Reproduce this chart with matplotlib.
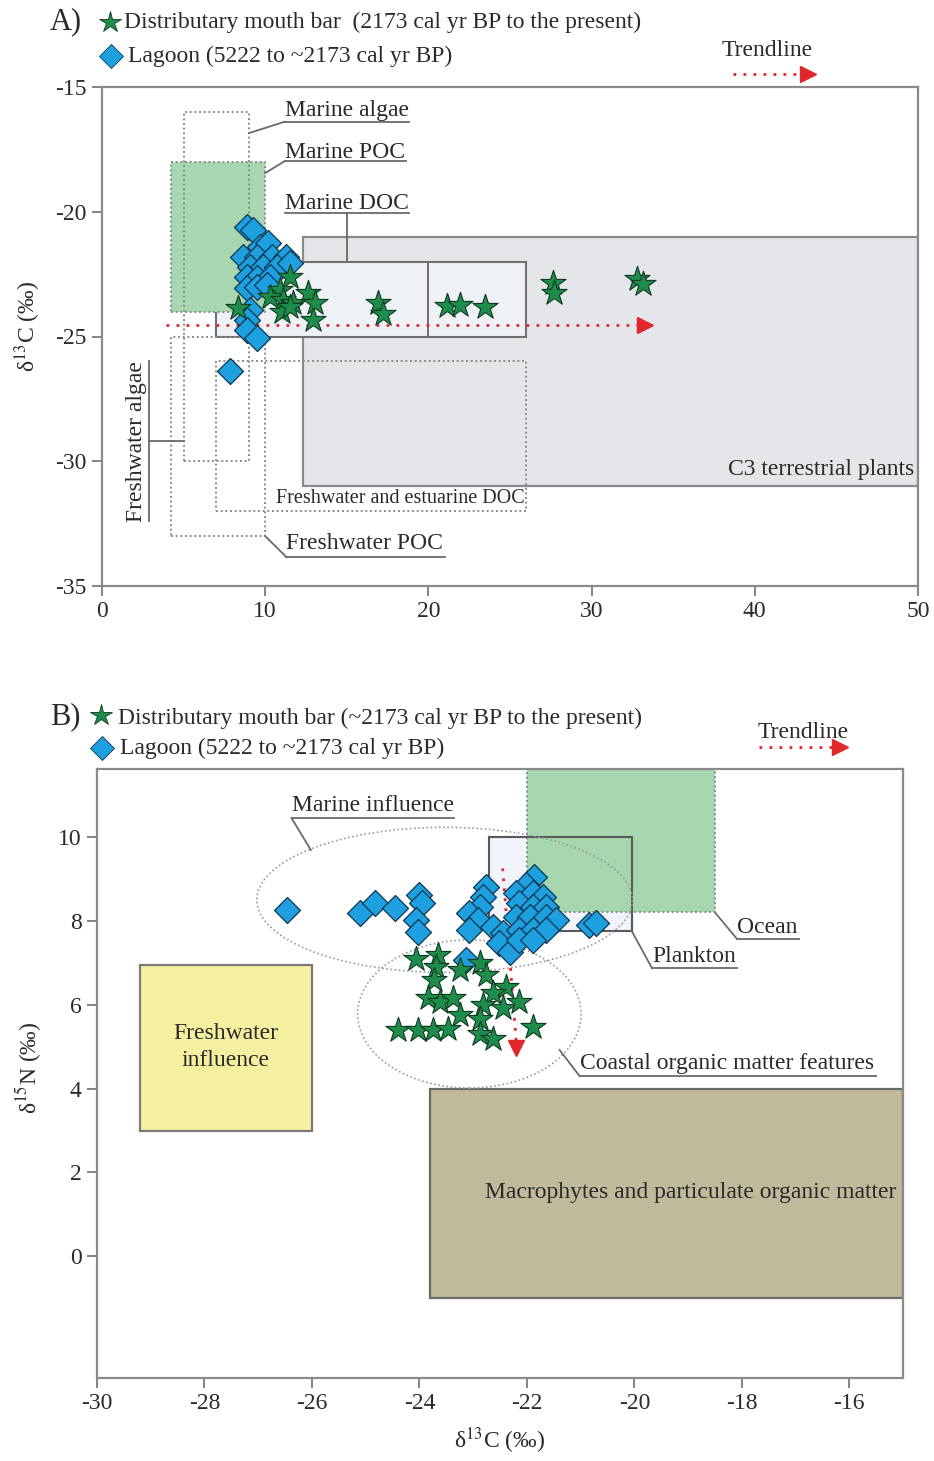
import matplotlib
matplotlib.use("Agg")
import matplotlib.pyplot as plt
from matplotlib.patches import Rectangle, Ellipse
from matplotlib.lines import Line2D

plt.rcParams['font.family'] = ['Liberation Serif', 'DejaVu Serif']
plt.rcParams['mathtext.fontset'] = 'stix'
plt.rcParams['axes.unicode_minus'] = False

# ---------------- data ----------------
# Panel A: C/N ratio vs d13C
a_mouthbar_cn = [8.35, 11.5, 10.9, 10.3, 11.1, 11.7, 11.0, 11.5, 12.64, 13.05,
                 12.95, 16.93, 17.2, 21.16, 21.94, 23.47, 27.65, 27.7, 32.76, 33.17]
a_mouthbar_d13c = [-23.87, -22.6, -23.14, -23.4, -23.54, -23.67, -24.0, -23.8, -23.27, -23.67,
                   -24.34, -23.67, -24.1, -23.78, -23.74, -23.8, -22.87, -23.24, -22.7, -22.9]
a_lagoon_cn = [8.87, 9.27, 8.66, 9.68, 10.19, 9.48, 10.4, 11.3, 9.07, 9.88, 10.7, 11.5,
               8.87, 9.48, 10.3, 8.87, 9.48, 10.1, 9.07, 8.87, 8.87, 9.48, 7.84]
a_lagoon_d13c = [-20.6, -20.73, -21.8, -21.4, -21.26, -21.8, -21.8, -21.8, -22.2, -22.2, -22.2, -22.07,
                 -22.6, -22.67, -22.6, -23.07, -23.0, -22.94, -23.94, -24.34, -24.74, -25.07, -26.4]

# Panel B: d13C vs d15N
b_mouthbar_d13c = [-24.06, -23.66, -23.69, -23.72, -23.25, -22.88, -22.76, -22.39, -22.63, -23.84,
                   -23.62, -23.38, -22.82, -22.45, -22.14, -23.25, -22.88, -24.4, -24.03, -23.75,
                   -23.47, -22.88, -22.63, -21.89]
b_mouthbar_d15n = [7.1, 7.18, 6.9, 6.59, 6.83, 6.99, 6.71, 6.43, 6.27, 6.15,
                   6.07, 6.15, 5.99, 5.91, 6.07, 5.75, 5.67, 5.39, 5.39, 5.39,
                   5.43, 5.31, 5.19, 5.47]
b_lagoon_d13c = [-23.13, -26.47, -25.11, -24.83, -24.46, -24.0, -23.96, -24.06, -24.03,
                 -22.76, -22.82, -22.88, -23.07, -22.91, -23.07, -22.63, -22.45, -22.51, -22.32,
                 -21.86, -22.01, -22.2, -21.89, -21.7, -22.14, -21.89, -21.64, -22.2, -21.95,
                 -21.64, -21.46, -22.14, -21.89, -21.64, -22.14, -21.89, -20.84, -20.71]
b_lagoon_d15n = [7.06, 8.26, 8.18, 8.42, 8.3, 8.62, 8.42, 8.02, 7.74,
                 8.81, 8.58, 8.34, 8.18, 8.02, 7.78, 7.86, 7.7, 7.46, 7.26,
                 9.05, 8.85, 8.66, 8.66, 8.58, 8.42, 8.34, 8.34, 8.1, 8.1,
                 8.1, 8.02, 7.78, 7.78, 7.78, 7.54, 7.54, 7.9, 7.94]

# trend lines (start / end of each arrow)
a_trend_x = [3.9, 33.0]
a_trend_y = [-24.55, -24.55]
b_trend_x = [-22.45, -22.2]
b_trend_y = [9.25, 5.15]

a_xticks = [0, 10, 20, 30, 40, 50]
a_yticks = [-15, -20, -25, -30, -35]
b_xticks = [-30, -28, -26, -24, -22, -20, -18, -16]
b_yticks = [0, 2, 4, 6, 8, 10]

# ---------------- style ----------------
STAR_FC = '#1e8c4a'
STAR_EC = '#0e3a20'
DIAM_FC = '#1d9fe0'
DIAM_EC = '#0d3550'
TXT = '#2a2a2a'
LINE = '#6a6a6a'
RED = '#e0282c'
FS = 17

W, H = 934, 1461
fig = plt.figure(figsize=(W / 100, H / 100), dpi=100)


def fx(px):
    return px / W


def fy(py):
    return 1 - py / H


def style_axes(ax):
    for s in ax.spines.values():
        s.set_color('#8a8a8a')
        s.set_linewidth(1.6)
    ax.tick_params(direction='out', length=7, width=1.3, color='#7a7a7a',
                   labelsize=FS, labelcolor=TXT, pad=4)


def underlined(ax, text, x, y, x_end, uy, conn, fs=FS):
    ax.text(x, y, text, ha='left', va='center', fontsize=fs, color=TXT, zorder=8)
    ax.plot([x, x_end], [uy, uy], color=LINE, lw=1.3, zorder=8, clip_on=False)
    ax.plot(conn[0], conn[1], color=LINE, lw=1.3, zorder=8, clip_on=False)


def dotted_box(ax, x0, x1, y0, y1, fc='none', z=3):
    ax.add_patch(Rectangle((x0, y0), x1 - x0, y1 - y0, facecolor=fc, edgecolor='#8c8c8c',
                           lw=1.4, ls=(0, (1, 1.4)), zorder=z))


def solid_box(ax, x0, x1, y0, y1, fc, ec='#8a8a8a', z=1, lw=1.6):
    ax.add_patch(Rectangle((x0, y0), x1 - x0, y1 - y0, facecolor=fc, edgecolor=ec,
                           lw=lw, zorder=z))


# ================= Panel A =================
axA = fig.add_axes([fx(102), fy(586), fx(918) - fx(102), fy(87) - fy(586)])
axA.set_xlim(0, 50)
axA.set_ylim(-35, -15)
axA.set_xticks(a_xticks)
axA.set_yticks(a_yticks)
style_axes(axA)
axA.set_ylabel('δ$^{13}$C (‰)', fontsize=FS, color=TXT, labelpad=2)
axA.yaxis.set_label_coords(-0.072, 0.52)

# source fields
solid_box(axA, 12.3, 50, -31.0, -21.0, '#e4e6ea', z=1)
solid_box(axA, 7.0, 26.0, -25.0, -22.0, '#eef1f6', ec='#707070', z=2, lw=1.5)
axA.plot([20, 20], [-25, -22], color='#707070', lw=1.4, zorder=2)
dotted_box(axA, 4.2, 10.0, -24.0, -18.0, fc='#a7d7b1', z=2)
dotted_box(axA, 5.0, 9.0, -30.0, -16.0)
dotted_box(axA, 4.2, 10.0, -33.0, -25.0)
dotted_box(axA, 7.0, 26.0, -32.0, -26.0)

axA.text(49.75, -30.35, 'C3 terrestrial plants', ha='right', va='center',
         fontsize=17, color=TXT, zorder=8)
axA.text(25.9, -31.5, 'Freshwater and estuarine DOC', ha='right', va='center',
         fontsize=14.5, color=TXT, zorder=8)

underlined(axA, 'Marine algae', 11.2, -15.96, 18.8, -16.39,
           ([9.0, 11.2], [-16.85, -16.39]))
underlined(axA, 'Marine POC', 11.2, -17.62, 18.6, -17.97,
           ([10.0, 11.2], [-18.45, -17.97]))
underlined(axA, 'Marine DOC', 11.2, -19.65, 18.8, -20.06,
           ([15.0, 15.0], [-20.06, -22.0]))
underlined(axA, 'Freshwater POC', 11.3, -33.3, 21.0, -33.84,
           ([10.0, 11.3], [-33.0, -33.84]))
# rotated label on the left
axA.text(2.1, -29.2, 'Freshwater algae', rotation=90, ha='center', va='center',
         fontsize=FS, color=TXT, zorder=8)
axA.plot([2.85, 2.85], [-26.0, -32.4], color=LINE, lw=1.3, zorder=8)
axA.plot([2.85, 5.0], [-29.2, -29.2], color=LINE, lw=1.3, zorder=8)

# trend
axA.plot(a_trend_x, a_trend_y, color=RED, lw=2.0, ls=(0, (1, 2.6)), zorder=4)
axA.plot(a_trend_x[-1] + 0.3, a_trend_y[-1], marker='>', ms=12, color=RED, mec=RED, zorder=4)

axA.scatter(a_lagoon_cn, a_lagoon_d13c, marker='D', s=175, c=DIAM_FC,
            edgecolors=DIAM_EC, linewidths=0.9, zorder=5)
axA.scatter(a_mouthbar_cn, a_mouthbar_d13c, marker='*', s=360, c=STAR_FC,
            edgecolors=STAR_EC, linewidths=0.8, zorder=6)

# legend A
fig.text(fx(50), fy(22), 'A)', fontsize=22, color=TXT, ha='left', va='center')
fig.add_artist(Line2D([fx(110)], [fy(22)], marker='*', ms=16, color=STAR_FC,
                      mec=STAR_EC, mew=0.6, ls='none'))
fig.text(fx(124), fy(22), 'Distributary mouth bar  (2173 cal yr BP to the present)',
         fontsize=FS, color=TXT, ha='left', va='center')
fig.add_artist(Line2D([fx(111)], [fy(56)], marker='D', ms=12, color=DIAM_FC,
                      mec=DIAM_EC, mew=0.6, ls='none'))
fig.text(fx(128), fy(56), 'Lagoon (5222 to ~2173 cal yr BP)',
         fontsize=FS, color=TXT, ha='left', va='center')
fig.text(fx(767), fy(51), 'Trendline', fontsize=FS, color=TXT, ha='center', va='center')
fig.add_artist(Line2D([fx(733), fx(803)], [fy(74), fy(74)], color=RED, lw=2.0,
                      ls=(0, (1, 2.6))))
fig.add_artist(Line2D([fx(808)], [fy(74)], marker='>', ms=12, color=RED, ls='none'))

# ================= Panel B =================
axB = fig.add_axes([fx(97), fy(1378), fx(903) - fx(97), fy(769) - fy(1378)])
axB.set_xlim(-30, -15)
axB.set_ylim(-2.9, 11.62)
axB.set_xticks(b_xticks)
axB.set_yticks(b_yticks)
style_axes(axB)
axB.set_xlabel('δ$^{13}$C (‰)', fontsize=FS, color=TXT, labelpad=8)
axB.set_ylabel('δ$^{15}$N (‰)', fontsize=FS, color=TXT)
axB.yaxis.set_label_coords(-0.066, 0.51)

solid_box(axB, -29.2, -26.0, 3.0, 6.95, '#f4f0a0', ec='#7a7a7a', z=1)
solid_box(axB, -23.8, -15.0, -1.0, 4.0, '#c0ba9b', ec='#6a6a6a', z=1)
solid_box(axB, -22.7, -20.05, 7.76, 10.0, '#f1f5fb', ec='#5a5a5a', z=1, lw=1.5)
dotted_box(axB, -22.0, -18.5, 8.2, 11.9, fc='#a5d6ae', z=2)
axB.plot([-22.7, -20.05, -20.05], [10.0, 10.0, 7.76], color='#5a5a5a', lw=1.5, zorder=2)

axB.add_patch(Ellipse((-23.53, 8.5), 6.99, 3.46, fill=False, edgecolor='#9a9a9a',
                      lw=1.2, ls=(0, (1, 1.5)), zorder=3))
axB.add_patch(Ellipse((-23.07, 5.78), 4.16, 3.53, fill=False, edgecolor='#9a9a9a',
                      lw=1.2, ls=(0, (1, 1.5)), zorder=3))

axB.text(-27.6, 4.99, 'Freshwater\ninfluence', ha='center', va='center', fontsize=FS,
         color=TXT, linespacing=1.35, zorder=8)
axB.text(-15.12, 1.53, 'Macrophytes and particulate organic matter', ha='right',
         va='center', fontsize=FS, color=TXT, zorder=8)

underlined(axB, 'Marine influence', -26.38, 10.76, -23.35, 10.45,
           ([-26.38, -26.02], [10.45, 9.69]))
underlined(axB, 'Ocean', -18.09, 7.85, -16.93, 7.57,
           ([-18.5, -18.09], [8.2, 7.57]))
underlined(axB, 'Plankton', -19.67, 7.16, -18.09, 6.87,
           ([-20.05, -19.67], [7.76, 6.87]))
underlined(axB, 'Coastal organic matter features', -21.02, 4.61, -15.5, 4.30,
           ([-21.39, -21.02], [4.92, 4.30]))

axB.plot(b_trend_x, b_trend_y, color=RED, lw=2.0, ls=(0, (1, 2.6)), zorder=4)
axB.plot(b_trend_x[-1], b_trend_y[-1] - 0.18, marker='v', ms=12, color=RED, zorder=4)

axB.scatter(b_lagoon_d13c, b_lagoon_d15n, marker='D', s=175, c=DIAM_FC,
            edgecolors=DIAM_EC, linewidths=0.9, zorder=5)
axB.scatter(b_mouthbar_d13c, b_mouthbar_d15n, marker='*', s=360, c=STAR_FC,
            edgecolors=STAR_EC, linewidths=0.8, zorder=6)

# legend B
fig.text(fx(50), fy(717), 'B)', fontsize=22, color=TXT, ha='left', va='center')
fig.add_artist(Line2D([fx(101)], [fy(715)], marker='*', ms=16, color=STAR_FC,
                      mec=STAR_EC, mew=0.6, ls='none'))
fig.text(fx(118), fy(718), 'Distributary mouth bar (~2173 cal yr BP to the present)',
         fontsize=FS, color=TXT, ha='left', va='center')
fig.add_artist(Line2D([fx(102)], [fy(748)], marker='D', ms=12, color=DIAM_FC,
                      mec=DIAM_EC, mew=0.6, ls='none'))
fig.text(fx(120), fy(748), 'Lagoon (5222 to ~2173 cal yr BP)',
         fontsize=FS, color=TXT, ha='left', va='center')
fig.text(fx(803), fy(732), 'Trendline', fontsize=FS, color=TXT, ha='center', va='center')
fig.add_artist(Line2D([fx(759), fx(835)], [fy(747), fy(747)], color=RED, lw=2.0,
                      ls=(0, (1, 2.6))))
fig.add_artist(Line2D([fx(840)], [fy(747)], marker='>', ms=12, color=RED, ls='none'))

fig.savefig('out.png', dpi=100, facecolor='white')
